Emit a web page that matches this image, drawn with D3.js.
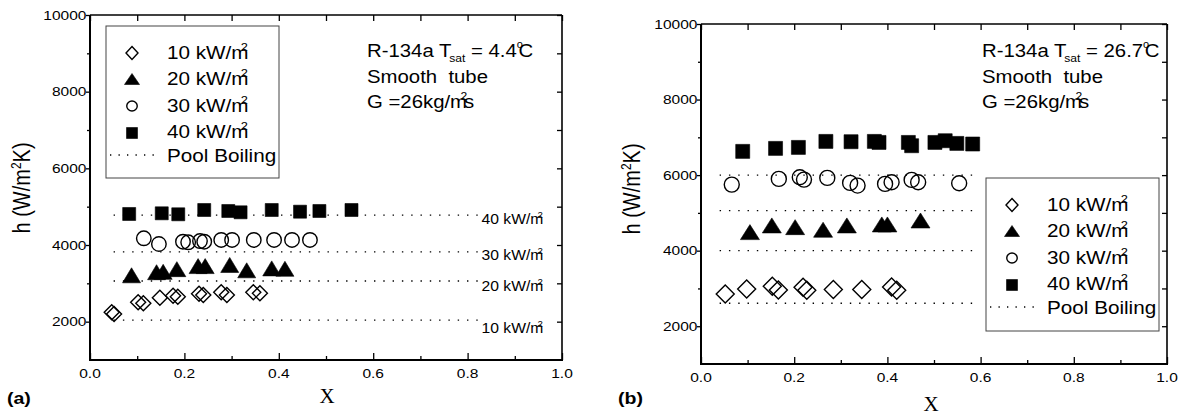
<!DOCTYPE html>
<html><head><meta charset="utf-8">
<script src="https://cdn.jsdelivr.net/npm/d3@7"></script>
<style>
body{margin:0;background:#fff}
svg{display:block}
text{font-family:"Liberation Sans",Arial,Helvetica,sans-serif;fill:#000}
</style>
</head><body>
<svg id="c" width="1188" height="416"></svg>
<script>
// ---------- data (a) Tsat = 4.4 C ----------
const xA10 = [0.046,0.051,0.102,0.113,0.148,0.176,0.186,0.231,0.240,0.278,0.290,0.346,0.360];
const hA10 = [2244,2200,2505,2479,2625,2678,2651,2730,2696,2766,2696,2766,2740];
const xA20 = [0.088,0.141,0.155,0.184,0.229,0.244,0.296,0.332,0.385,0.413];
const hA20 = [3210,3290,3300,3370,3450,3450,3480,3340,3390,3380];
const xA30 = [0.114,0.146,0.197,0.208,0.233,0.242,0.278,0.301,0.347,0.390,0.428,0.466];
const hA30 = [4175,4026,4086,4071,4104,4086,4131,4131,4131,4131,4131,4131];
const xA40 = [0.083,0.152,0.187,0.242,0.293,0.319,0.385,0.445,0.486,0.554];
const hA40 = [4809,4827,4801,4913,4887,4853,4913,4869,4887,4913];
const poolA = [2040,3060,3820,4780];
const poolAx = [0.05,0.83];

// ---------- data (b) Tsat = 26.7 C ----------
const xB10 = [0.052,0.098,0.153,0.166,0.219,0.227,0.284,0.345,0.409,0.420];
const hB10 = [2855,2987,3058,2960,3032,2953,2971,2971,3040,2953];
const xB20 = [0.105,0.152,0.202,0.262,0.313,0.388,0.400,0.471];
const hB20 = [4491,4668,4623,4554,4668,4694,4694,4799];
const xB30 = [0.066,0.167,0.212,0.221,0.271,0.320,0.336,0.395,0.409,0.452,0.466,0.554];
const hB30 = [5749,5900,5942,5881,5926,5794,5723,5768,5810,5873,5810,5784];
const xB40 = [0.0895,0.160,0.209,0.268,0.322,0.372,0.382,0.445,0.452,0.502,0.524,0.549,0.583];
const hB40 = [6628,6707,6733,6892,6884,6892,6865,6865,6778,6865,6910,6839,6823];
const poolB = [2610,4000,5060,6000];
const poolBx = [0.04,0.585];

// ---------- labels / ticks ----------
const fluxNames = ["10 kW/m","20 kW/m","30 kW/m","40 kW/m"];
const shapes = ["diamond","triangle","circle","square"];
const poolName = "Pool Boiling";
const xMajor = [0,0.2,0.4,0.6,0.8,1.0];
const xMinor = [0.1,0.3,0.5,0.7,0.9];
const yMajor = [2000,4000,6000,8000,10000];
const yMinor = [3000,5000,7000,9000];
const xDomain = [0,1];
const yDomain = [1000,10000];

const svg = d3.select("#c");

function shapePath(type,w,h){
  if(type==="diamond") return `M0,${-h/2}L${w/2},0L0,${h/2}L${-w/2},0Z`;
  if(type==="triangle") return `M0,${-h/2}L${w/2},${h/2}L${-w/2},${h/2}Z`;
  if(type==="square") return `M${-w/2},${-h/2}h${w}v${h}h${-w}Z`;
  const r=w/2; return `M${r},0A${r},${h/2},0,1,1,${-r},0A${r},${h/2},0,1,1,${r},0Z`;
}
function styleShape(sel,type){
  const filled = (type==="triangle"||type==="square");
  sel.attr("fill",filled?"#000":"none").attr("stroke","#000").attr("stroke-width",filled?0.6:1.4);
}
function addText(g,x,y,parts,size,opt={}){
  const sx = opt.sx||1.15;
  const t = g.append("text")
    .attr("transform",`translate(${x},${y}) scale(${sx},1)`+(opt.rot?` rotate(${opt.rot})`:""))
    .attr("font-size",size).attr("text-anchor",opt.anchor||"start");
  if(opt.weight) t.attr("font-weight",opt.weight);
  if(opt.family) t.style("font-family",opt.family);
  if(typeof parts==="string"){ t.text(parts); return t; }
  parts.forEach(p=>{
    t.append("tspan").attr("font-size",p.s||size).attr("dx",p.dx||0).attr("dy",p.dy||0).text(p.t);
  });
  return t;
}
function unitParts(name,sz){ return [{t:name},{t:"2",s:sz*0.62,dx:-sz*0.38,dy:-sz*0.45}]; }

const panels = [
  { r:{x0:90,x1:562,y0:360,y1:15}, xs:[xA10,xA20,xA30,xA40], hs:[hA10,hA20,hA30,hA40],
    pool:poolA, poolX:poolAx, poolLabelX:481.5, poolLabelDy:[13,10,8,9],
    sizes:{diamond:[15,15],triangle:[18,15],circle:[14.5,14.5],square:[13,13]},
    legend:{x:106,y:26,w:173,h:152}, annot:{x:367,y:57,t:"4.4"},
    ylab:{x:30,y:188}, xt:{x:327,y:403}, tag:{x:7,y:404,t:"(a)"} },
  { r:{x0:701,x1:1167,y0:364,y1:24}, xs:[xB10,xB20,xB30,xB40], hs:[hB10,hB20,hB30,hB40],
    pool:poolB, poolX:poolBx, poolLabelX:null,
    sizes:{diamond:[18,18],triangle:[19,15],circle:[15,15],square:[14,14]},
    legend:{x:986,y:178,w:173,h:153}, annot:{x:982,y:57,t:"26.7"},
    ylab:{x:640,y:189}, xt:{x:931,y:411}, tag:{x:618,y:404,t:"(b)"} }
];

panels.forEach(P=>{
  const g = svg.append("g");
  const x = d3.scaleLinear().domain(xDomain).range([P.r.x0,P.r.x1]);
  const y = d3.scaleLinear().domain(yDomain).range([P.r.y0,P.r.y1]);

  const mk=(axis,vals,size,tr)=>{
    const a=g.append("g").attr("transform",tr).call(axis.tickValues(vals).tickSizeInner(size).tickSizeOuter(0).tickFormat(""));
    a.select(".domain").remove();
    a.selectAll("line").attr("stroke","#000").attr("stroke-width",1.3);
  };
  mk(d3.axisBottom(x),xMajor,-7,`translate(0,${P.r.y0})`);
  mk(d3.axisBottom(x),xMinor,-4,`translate(0,${P.r.y0})`);
  mk(d3.axisTop(x),xMajor.concat(xMinor),-6,`translate(0,${P.r.y1})`);
  mk(d3.axisLeft(y),yMajor,4,`translate(${P.r.x0},0)`);
  mk(d3.axisLeft(y),yMinor,3,`translate(${P.r.x0},0)`);
  mk(d3.axisRight(y),yMajor.concat(yMinor),-5,`translate(${P.r.x1},0)`);

  const fr=(x1,y1,x2,y2,w)=>g.append("line").attr("x1",x1).attr("y1",y1).attr("x2",x2).attr("y2",y2).attr("stroke","#000").attr("stroke-width",w);
  fr(x(0),y(1000)+1,x(0),y(10000),2);
  fr(x(0)-1,y(1000),x(1)+1,y(1000),2);
  fr(x(0),y(10000),x(1),y(10000),1.3);
  fr(x(1),y(1000),x(1),y(10000),1.6);

  xMajor.forEach(v=>addText(g,x(v),P.r.y0+18,d3.format(".1f")(v),13.5,{anchor:"middle"}));
  yMajor.forEach(v=>addText(g,x(0)-3.5,y(v)+4.5,String(v),13.5,{anchor:"end"}));

  addText(g,P.ylab.x,P.ylab.y,[{t:"h (W/m"},{t:"2",s:12,dy:-8},{t:"K)",dy:8}],20,{anchor:"middle",rot:-90});
  addText(g,P.xt.x,P.xt.y,"X",21,{anchor:"middle",sx:1,family:'"Liberation Serif","Times New Roman",serif'});
  addText(g,P.tag.x,P.tag.y,P.tag.t,17,{weight:"bold",sx:1.15});

  P.pool.forEach((v,i)=>{
    g.append("line").attr("x1",x(P.poolX[0])).attr("x2",x(P.poolX[1])).attr("y1",y(v)).attr("y2",y(v))
      .attr("stroke","#000").attr("stroke-width",1.4).attr("stroke-dasharray","1.4,7.9");
    if(P.poolLabelX!==null){
      addText(g,P.poolLabelX,y(v)+P.poolLabelDy[i],unitParts(fluxNames[i],14),14,{sx:1.12});
    }
  });

  shapes.forEach((s,k)=>{
    const pts = P.xs[k].map((xv,i)=>({x:xv,h:P.hs[k][i]}));
    const [w,h]=P.sizes[s];
    g.append("g").selectAll("path").data(pts).join("path")
      .attr("transform",d=>`translate(${x(d.x)},${y(d.h)})`)
      .attr("d",shapePath(s,w,h)).call(styleShape,s);
  });

  const L=P.legend;
  g.append("rect").attr("x",L.x).attr("y",L.y).attr("width",L.w).attr("height",L.h)
    .attr("fill","#fff").attr("stroke","#444").attr("stroke-width",1);
  const legSizes={diamond:[12,13],triangle:[15,11],circle:[10.5,10],square:[11,11]};
  const symY=[27,53,80,107], txtY=[33,59,86,112];
  shapes.forEach((s,k)=>{
    const [w,h]=legSizes[s];
    g.append("path").attr("transform",`translate(${L.x+26},${L.y+symY[k]})`).attr("d",shapePath(s,w,h)).call(styleShape,s);
    addText(g,L.x+61,L.y+txtY[k],unitParts(fluxNames[k],18),18,{sx:1.15});
  });
  g.append("line").attr("x1",L.x+4).attr("x2",L.x+51).attr("y1",L.y+129).attr("y2",L.y+129)
    .attr("stroke","#000").attr("stroke-width",1.3).attr("stroke-dasharray","1.3,7.2");
  addText(g,L.x+61,L.y+136,poolName,18,{sx:1.15});

  const A=P.annot, fs=18.5;
  addText(g,A.x,A.y,[{t:"R-134a T"},{t:"sat",s:11,dx:-2,dy:5},{t:" = "+A.t,dy:-5},{t:"o",s:10,dy:-9},{t:"C",dx:-4,dy:9}],fs,{sx:1.1});
  addText(g,A.x,A.y+26,"Smooth\u00a0\u00a0tube",fs,{sx:1.1});
  addText(g,A.x,A.y+51,[{t:"G =26kg/m"},{t:"2",s:11,dx:-6,dy:-8},{t:"s",dx:-3,dy:8}],fs,{sx:1.1});
});
</script>
</body></html>
